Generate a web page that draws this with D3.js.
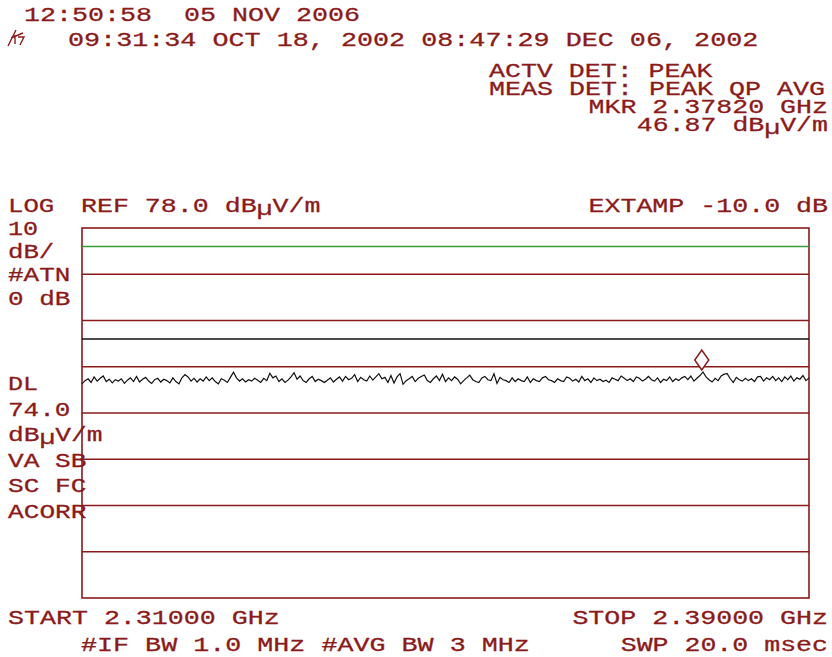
<!DOCTYPE html>
<html>
<head>
<meta charset="utf-8">
<script src="https://cdn.jsdelivr.net/npm/d3@7"></script>
<style>
  body { margin: 0; background: #fff; }
  text { font-family: "Liberation Mono", "Courier New", monospace; font-size: 21px; fill: #8b1a1a; stroke: #8b1a1a; stroke-width: 0.3px; white-space: pre; }
</style>
</head>
<body>
<div id="chart"></div>
<script>
const width = 832;
const height = 657;
const ink = "#8b1a1a";
const cell = 16.1;

// sweep settings
const startGHz = 2.31;
const stopGHz = 2.39;
const refLevel = 78.0;
const dbPerDiv = 10;
const divisions = 8;
const displayLine = 74.0;
const limitLine = 54.0;
const markerGHz = 2.3782;
const markerLevel = 46.87;

// trace, dBuV/m, 241 points
const trace = [
  44.3, 45.0, 45.4, 44.6, 45.8, 44.9, 45.5, 46.0, 44.8, 45.3, 44.5, 45.2, 44.9, 45.4, 44.4, 45.1, 45.6, 44.8, 45.9, 44.7,
  45.3, 45.7, 44.9, 44.4, 45.2, 45.5, 44.7, 45.3, 45.0, 44.5, 45.6, 44.8, 44.3, 45.6, 46.3, 45.8, 44.9, 45.5, 44.7, 45.4,
  44.9, 45.8, 45.0, 45.6, 44.8, 44.3, 45.4, 45.1, 44.6, 45.7, 46.8, 45.6, 44.9, 45.4, 44.7, 45.2, 44.9, 45.5, 45.1, 44.6,
  45.5, 45.0, 46.6, 45.6, 46.0, 44.8, 45.4, 44.6, 45.1, 45.8, 46.7, 45.3, 46.0, 45.0, 44.6, 45.4, 45.9, 44.8, 45.3, 45.0,
  44.6, 45.1, 45.6, 44.7, 45.3, 45.8, 44.9, 45.9, 45.2, 45.5, 46.3, 44.8, 45.7, 45.2, 44.9, 46.0, 45.1, 45.8, 46.5, 45.4,
  45.7, 44.6, 46.1, 44.5, 45.8, 46.5, 44.2, 45.0, 45.4, 45.9, 44.8, 45.5, 45.9, 46.2, 45.0, 44.6, 45.4, 46.0, 45.0, 46.4,
  44.8, 45.6, 45.0, 45.8, 45.3, 44.3, 45.0, 45.6, 46.2, 45.2, 44.8, 44.6, 45.6, 45.9, 45.2, 45.0, 46.5, 44.4, 45.7, 45.2,
  45.0, 44.6, 45.6, 44.8, 45.4, 45.0, 44.8, 45.8, 44.6, 45.4, 45.0, 44.8, 45.6, 45.9, 45.2, 45.0, 44.6, 45.4, 45.0, 44.8,
  45.8, 45.5, 44.9, 45.3, 44.7, 45.9, 45.0, 45.4, 44.6, 45.6, 45.0, 45.3, 44.8, 45.1, 44.6, 45.6, 45.3, 45.0, 46.0, 45.5,
  45.0, 45.4, 44.8, 45.8, 45.5, 44.9, 45.3, 45.9, 45.2, 44.9, 45.6, 44.6, 45.3, 45.0, 45.8, 44.8, 45.4, 45.0, 45.6, 45.9,
  45.2, 46.0, 44.9, 45.5, 46.1, 46.87, 45.8, 45.2, 44.7, 45.5, 45.0, 46.0, 46.4, 46.5, 45.4, 44.6, 45.7, 45.2, 44.9, 45.5,
  45.0, 45.4, 44.8, 45.8, 45.9, 44.9, 45.6, 45.2, 45.9, 45.0, 45.6, 44.8, 45.8, 45.2, 46.0, 44.9, 45.6, 45.3, 46.1, 45.0,
  45.6
];

// screen annotations: [text, left x, baseline]
const leftNotes = [
  ["12:50:58  05 NOV 2006", 24, 21],
  ["09:31:34 OCT 18, 2002 08:47:29 DEC 06, 2002", 68, 46],
  ["ACTV DET: PEAK", 489, 77],
  ["MEAS DET: PEAK QP AVG", 489, 95],
  ["LOG", 8, 212],
  ["REF 78.0 dB\u00b5V/m", 81, 212],
  ["10", 8, 235],
  ["dB/", 8, 258],
  ["#ATN", 8, 281],
  ["0 dB", 8, 305],
  ["DL", 8, 390],
  ["74.0", 8, 416],
  ["dB\u00b5V/m", 8, 441],
  ["VA SB", 8, 467],
  ["SC FC", 8, 492],
  ["ACORR", 8, 518],
  ["START 2.31000 GHz", 8, 624],
  ["#IF BW 1.0 MHz #AVG BW 3 MHz", 81, 651]
];
// [text, right edge, baseline]
const rightNotes = [
  ["MKR 2.37820 GHz", 830, 113],
  ["46.87 dB\u00b5V/m", 830, 131],
  ["EXTAMP -10.0 dB", 830, 212],
  ["STOP 2.39000 GHz", 830, 624],
  ["SWP 20.0 msec", 830, 651]
];

const svg = d3.select("#chart").append("svg").attr("width", width).attr("height", height);

const x = d3.scaleLinear().domain([startGHz, stopGHz]).range([82, 809]);
const y = d3.scaleLinear().domain([refLevel - divisions * dbPerDiv, refLevel]).range([598, 228]);
const idx = d3.scaleLinear().domain([0, trace.length - 1]).range([startGHz, stopGHz]);

// graticule: horizontal lines only
const levels = d3.range(1, divisions).map((k) => refLevel - k * dbPerDiv);
svg.append("g")
  .selectAll("line")
  .data(levels)
  .enter()
  .append("line")
  .attr("x1", x(startGHz))
  .attr("x2", x(stopGHz))
  .attr("y1", (d) => y(d))
  .attr("y2", (d) => y(d))
  .attr("stroke", ink)
  .attr("stroke-width", 1.6);

svg.append("rect")
  .attr("x", x(startGHz))
  .attr("y", y(refLevel))
  .attr("width", x(stopGHz) - x(startGHz))
  .attr("height", y(refLevel - divisions * dbPerDiv) - y(refLevel))
  .attr("fill", "none")
  .attr("stroke", ink)
  .attr("stroke-width", 1.6);

// display line and limit line
svg.append("line")
  .attr("x1", x(startGHz)).attr("x2", x(stopGHz))
  .attr("y1", y(displayLine)).attr("y2", y(displayLine))
  .attr("stroke", "#3a9a3a").attr("stroke-width", 1.5);

svg.append("line")
  .attr("x1", x(startGHz)).attr("x2", x(stopGHz))
  .attr("y1", y(limitLine)).attr("y2", y(limitLine))
  .attr("stroke", "#111").attr("stroke-width", 1.5);

// trace
const line = d3.line()
  .x((d, i) => x(idx(i)))
  .y((d) => y(d));
svg.append("path")
  .datum(trace)
  .attr("d", line)
  .attr("fill", "none")
  .attr("stroke", "#111")
  .attr("stroke-width", 1.2);

// marker diamond
const mx = x(markerGHz);
const my = y(markerLevel) - 2;
svg.append("path")
  .attr("d", `M${mx},${my} L${mx - 7},${my - 10} L${mx},${my - 20} L${mx + 7},${my - 10} Z`)
  .attr("fill", "#fff")
  .attr("stroke", ink)
  .attr("stroke-width", 1.5);

// text, stretched to the analyzer's wide character cell
function addNote(t, xPos, yPos) {
  const el = svg.append("text")
    .attr("x", xPos)
    .attr("y", yPos)
    .attr("textLength", t.length * cell - 2)
    .attr("lengthAdjust", "spacingAndGlyphs");
  const parts = t.split("\u00b5");
  parts.forEach((p, i) => {
    if (i > 0) el.append("tspan").attr("dy", 3).text("\u00b5");
    el.append("tspan").attr("dy", i > 0 ? -3 : 0).text(p);
  });
}
leftNotes.forEach((n) => addNote(n[0], n[1], n[2]));
rightNotes.forEach((n) => addNote(n[0], n[1] - n[0].length * cell, n[2]));

// small handwritten-looking symbol before the second timestamp
svg.append("path")
  .attr("d", "M8,46 L16,30 M11,38 L23,33 M15,35 L15,44 M18,37 L24,37 L20,45")
  .attr("fill", "none")
  .attr("stroke", ink)
  .attr("stroke-width", 1.4);
</script>
</body>
</html>
